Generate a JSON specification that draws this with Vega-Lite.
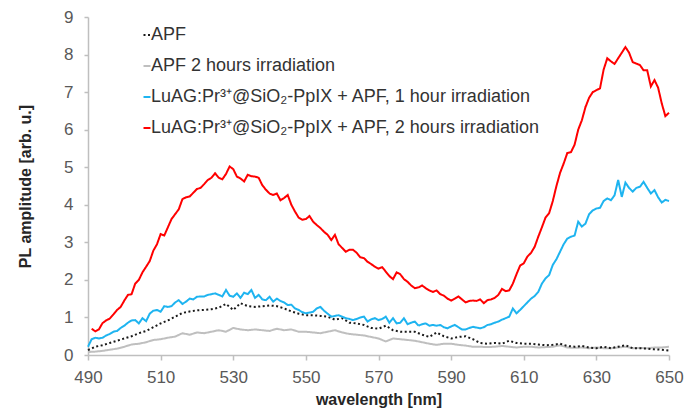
{
  "$schema": "https://vega.github.io/schema/vega-lite/v6.json",
  "width": 581,
  "height": 338,
  "autosize": {"type": "none"},
  "padding": {"left": 88, "top": 17, "right": 20, "bottom": 55},
  "background": "white",
  "config": {"view": {"stroke": null}, "font": "Liberation Sans"},
  "data": {"values": [
{"s":"g","w":490,"v":0.08},{"s":"g","w":492,"v":0.09},{"s":"g","w":494,"v":0.11},{"s":"g","w":496,"v":0.14},{"s":"g","w":498,"v":0.17},{"s":"g","w":500,"v":0.22},{"s":"g","w":502,"v":0.28},{"s":"g","w":504,"v":0.30},{"s":"g","w":506,"v":0.34},{"s":"g","w":508,"v":0.40},{"s":"g","w":510,"v":0.42},{"s":"g","w":512,"v":0.46},{"s":"g","w":514,"v":0.49},{"s":"g","w":516,"v":0.58},{"s":"g","w":518,"v":0.54},{"s":"g","w":520,"v":0.60},{"s":"g","w":522,"v":0.58},{"s":"g","w":524,"v":0.62},{"s":"g","w":526,"v":0.66},{"s":"g","w":528,"v":0.62},{"s":"g","w":530,"v":0.72},{"s":"g","w":532,"v":0.68},{"s":"g","w":534,"v":0.66},{"s":"g","w":536,"v":0.68},{"s":"g","w":538,"v":0.66},{"s":"g","w":540,"v":0.64},{"s":"g","w":542,"v":0.70},{"s":"g","w":544,"v":0.66},{"s":"g","w":546,"v":0.68},{"s":"g","w":548,"v":0.62},{"s":"g","w":550,"v":0.62},{"s":"g","w":552,"v":0.60},{"s":"g","w":554,"v":0.58},{"s":"g","w":556,"v":0.62},{"s":"g","w":558,"v":0.66},{"s":"g","w":560,"v":0.60},{"s":"g","w":562,"v":0.56},{"s":"g","w":564,"v":0.54},{"s":"g","w":566,"v":0.52},{"s":"g","w":568,"v":0.48},{"s":"g","w":570,"v":0.44},{"s":"g","w":572,"v":0.36},{"s":"g","w":574,"v":0.44},{"s":"g","w":576,"v":0.42},{"s":"g","w":578,"v":0.40},{"s":"g","w":580,"v":0.38},{"s":"g","w":582,"v":0.34},{"s":"g","w":584,"v":0.30},{"s":"g","w":586,"v":0.27},{"s":"g","w":588,"v":0.30},{"s":"g","w":590,"v":0.30},{"s":"g","w":592,"v":0.27},{"s":"g","w":594,"v":0.25},{"s":"g","w":596,"v":0.22},{"s":"g","w":598,"v":0.22},{"s":"g","w":600,"v":0.21},{"s":"g","w":602,"v":0.22},{"s":"g","w":604,"v":0.24},{"s":"g","w":606,"v":0.22},{"s":"g","w":608,"v":0.20},{"s":"g","w":610,"v":0.22},{"s":"g","w":612,"v":0.22},{"s":"g","w":614,"v":0.20},{"s":"g","w":616,"v":0.21},{"s":"g","w":618,"v":0.22},{"s":"g","w":620,"v":0.26},{"s":"g","w":622,"v":0.20},{"s":"g","w":624,"v":0.19},{"s":"g","w":626,"v":0.20},{"s":"g","w":628,"v":0.18},{"s":"g","w":630,"v":0.20},{"s":"g","w":632,"v":0.18},{"s":"g","w":634,"v":0.18},{"s":"g","w":636,"v":0.20},{"s":"g","w":638,"v":0.22},{"s":"g","w":640,"v":0.18},{"s":"g","w":642,"v":0.19},{"s":"g","w":644,"v":0.18},{"s":"g","w":646,"v":0.20},{"s":"g","w":648,"v":0.20},{"s":"g","w":650,"v":0.22},
{"s":"k","w":490,"v":0.13},{"s":"k","w":492,"v":0.22},{"s":"k","w":494,"v":0.26},{"s":"k","w":496,"v":0.32},{"s":"k","w":498,"v":0.38},{"s":"k","w":500,"v":0.44},{"s":"k","w":502,"v":0.50},{"s":"k","w":504,"v":0.58},{"s":"k","w":506,"v":0.64},{"s":"k","w":508,"v":0.74},{"s":"k","w":510,"v":0.84},{"s":"k","w":512,"v":0.92},{"s":"k","w":514,"v":1.02},{"s":"k","w":516,"v":1.12},{"s":"k","w":518,"v":1.16},{"s":"k","w":520,"v":1.19},{"s":"k","w":522,"v":1.20},{"s":"k","w":524,"v":1.22},{"s":"k","w":526,"v":1.26},{"s":"k","w":528,"v":1.36},{"s":"k","w":530,"v":1.20},{"s":"k","w":532,"v":1.38},{"s":"k","w":534,"v":1.30},{"s":"k","w":536,"v":1.28},{"s":"k","w":538,"v":1.30},{"s":"k","w":540,"v":1.32},{"s":"k","w":542,"v":1.30},{"s":"k","w":544,"v":1.24},{"s":"k","w":546,"v":1.16},{"s":"k","w":548,"v":1.10},{"s":"k","w":550,"v":1.06},{"s":"k","w":552,"v":1.06},{"s":"k","w":554,"v":1.04},{"s":"k","w":556,"v":1.02},{"s":"k","w":558,"v":0.94},{"s":"k","w":560,"v":0.98},{"s":"k","w":562,"v":0.86},{"s":"k","w":564,"v":0.84},{"s":"k","w":566,"v":0.80},{"s":"k","w":568,"v":0.72},{"s":"k","w":570,"v":0.70},{"s":"k","w":572,"v":0.78},{"s":"k","w":574,"v":0.66},{"s":"k","w":576,"v":0.62},{"s":"k","w":578,"v":0.62},{"s":"k","w":580,"v":0.62},{"s":"k","w":582,"v":0.54},{"s":"k","w":584,"v":0.48},{"s":"k","w":586,"v":0.60},{"s":"k","w":588,"v":0.50},{"s":"k","w":590,"v":0.44},{"s":"k","w":592,"v":0.48},{"s":"k","w":594,"v":0.50},{"s":"k","w":596,"v":0.42},{"s":"k","w":598,"v":0.32},{"s":"k","w":600,"v":0.30},{"s":"k","w":602,"v":0.32},{"s":"k","w":604,"v":0.30},{"s":"k","w":606,"v":0.38},{"s":"k","w":608,"v":0.32},{"s":"k","w":610,"v":0.30},{"s":"k","w":612,"v":0.30},{"s":"k","w":614,"v":0.28},{"s":"k","w":616,"v":0.26},{"s":"k","w":618,"v":0.27},{"s":"k","w":620,"v":0.30},{"s":"k","w":622,"v":0.24},{"s":"k","w":624,"v":0.22},{"s":"k","w":626,"v":0.24},{"s":"k","w":628,"v":0.20},{"s":"k","w":630,"v":0.18},{"s":"k","w":632,"v":0.22},{"s":"k","w":634,"v":0.18},{"s":"k","w":636,"v":0.22},{"s":"k","w":638,"v":0.26},{"s":"k","w":640,"v":0.18},{"s":"k","w":642,"v":0.18},{"s":"k","w":644,"v":0.17},{"s":"k","w":646,"v":0.15},{"s":"k","w":648,"v":0.14},{"s":"k","w":650,"v":0.12},
{"s":"b","w":490,"v":0.22},{"s":"b","w":491,"v":0.42},{"s":"b","w":492,"v":0.46},{"s":"b","w":493,"v":0.44},{"s":"b","w":494,"v":0.46},{"s":"b","w":495,"v":0.52},{"s":"b","w":496,"v":0.56},{"s":"b","w":497,"v":0.62},{"s":"b","w":498,"v":0.64},{"s":"b","w":499,"v":0.72},{"s":"b","w":500,"v":0.78},{"s":"b","w":501,"v":0.86},{"s":"b","w":502,"v":0.92},{"s":"b","w":503,"v":0.93},{"s":"b","w":504,"v":0.84},{"s":"b","w":505,"v":0.98},{"s":"b","w":506,"v":0.90},{"s":"b","w":507,"v":1.10},{"s":"b","w":508,"v":1.18},{"s":"b","w":509,"v":1.20},{"s":"b","w":510,"v":1.15},{"s":"b","w":511,"v":1.30},{"s":"b","w":512,"v":1.28},{"s":"b","w":513,"v":1.30},{"s":"b","w":514,"v":1.40},{"s":"b","w":515,"v":1.46},{"s":"b","w":516,"v":1.36},{"s":"b","w":517,"v":1.42},{"s":"b","w":518,"v":1.50},{"s":"b","w":519,"v":1.48},{"s":"b","w":520,"v":1.55},{"s":"b","w":521,"v":1.56},{"s":"b","w":522,"v":1.56},{"s":"b","w":523,"v":1.60},{"s":"b","w":524,"v":1.62},{"s":"b","w":525,"v":1.64},{"s":"b","w":526,"v":1.60},{"s":"b","w":527,"v":1.56},{"s":"b","w":528,"v":1.73},{"s":"b","w":529,"v":1.58},{"s":"b","w":530,"v":1.55},{"s":"b","w":531,"v":1.64},{"s":"b","w":532,"v":1.52},{"s":"b","w":533,"v":1.66},{"s":"b","w":534,"v":1.62},{"s":"b","w":535,"v":1.73},{"s":"b","w":536,"v":1.52},{"s":"b","w":537,"v":1.60},{"s":"b","w":538,"v":1.48},{"s":"b","w":539,"v":1.46},{"s":"b","w":540,"v":1.55},{"s":"b","w":541,"v":1.42},{"s":"b","w":542,"v":1.50},{"s":"b","w":543,"v":1.44},{"s":"b","w":544,"v":1.40},{"s":"b","w":545,"v":1.33},{"s":"b","w":546,"v":1.34},{"s":"b","w":547,"v":1.24},{"s":"b","w":548,"v":1.20},{"s":"b","w":549,"v":1.14},{"s":"b","w":550,"v":1.11},{"s":"b","w":551,"v":1.13},{"s":"b","w":552,"v":1.15},{"s":"b","w":553,"v":1.24},{"s":"b","w":554,"v":1.28},{"s":"b","w":555,"v":1.18},{"s":"b","w":556,"v":1.10},{"s":"b","w":557,"v":1.02},{"s":"b","w":558,"v":1.04},{"s":"b","w":559,"v":1.06},{"s":"b","w":560,"v":1.02},{"s":"b","w":561,"v":0.98},{"s":"b","w":562,"v":0.96},{"s":"b","w":563,"v":0.93},{"s":"b","w":564,"v":0.96},{"s":"b","w":565,"v":1.00},{"s":"b","w":566,"v":1.02},{"s":"b","w":567,"v":0.89},{"s":"b","w":568,"v":0.95},{"s":"b","w":569,"v":0.98},{"s":"b","w":570,"v":0.93},{"s":"b","w":571,"v":0.96},{"s":"b","w":572,"v":1.02},{"s":"b","w":573,"v":0.86},{"s":"b","w":574,"v":0.98},{"s":"b","w":575,"v":0.84},{"s":"b","w":576,"v":0.86},{"s":"b","w":577,"v":0.98},{"s":"b","w":578,"v":0.82},{"s":"b","w":579,"v":0.86},{"s":"b","w":580,"v":0.89},{"s":"b","w":581,"v":0.78},{"s":"b","w":582,"v":0.82},{"s":"b","w":583,"v":0.84},{"s":"b","w":584,"v":0.78},{"s":"b","w":585,"v":0.80},{"s":"b","w":586,"v":0.78},{"s":"b","w":587,"v":0.80},{"s":"b","w":588,"v":0.74},{"s":"b","w":589,"v":0.71},{"s":"b","w":590,"v":0.76},{"s":"b","w":591,"v":0.80},{"s":"b","w":592,"v":0.74},{"s":"b","w":593,"v":0.68},{"s":"b","w":594,"v":0.68},{"s":"b","w":595,"v":0.72},{"s":"b","w":596,"v":0.75},{"s":"b","w":597,"v":0.73},{"s":"b","w":598,"v":0.71},{"s":"b","w":599,"v":0.74},{"s":"b","w":600,"v":0.80},{"s":"b","w":601,"v":0.82},{"s":"b","w":602,"v":0.86},{"s":"b","w":603,"v":0.89},{"s":"b","w":604,"v":0.94},{"s":"b","w":605,"v":0.98},{"s":"b","w":606,"v":1.02},{"s":"b","w":607,"v":1.24},{"s":"b","w":608,"v":1.11},{"s":"b","w":609,"v":1.20},{"s":"b","w":610,"v":1.30},{"s":"b","w":611,"v":1.40},{"s":"b","w":612,"v":1.50},{"s":"b","w":613,"v":1.57},{"s":"b","w":614,"v":1.68},{"s":"b","w":615,"v":1.90},{"s":"b","w":616,"v":2.04},{"s":"b","w":617,"v":2.13},{"s":"b","w":618,"v":2.40},{"s":"b","w":619,"v":2.55},{"s":"b","w":620,"v":2.75},{"s":"b","w":621,"v":2.95},{"s":"b","w":622,"v":3.10},{"s":"b","w":623,"v":3.15},{"s":"b","w":624,"v":3.18},{"s":"b","w":625,"v":3.55},{"s":"b","w":626,"v":3.42},{"s":"b","w":627,"v":3.50},{"s":"b","w":628,"v":3.75},{"s":"b","w":629,"v":3.85},{"s":"b","w":630,"v":3.90},{"s":"b","w":631,"v":3.92},{"s":"b","w":632,"v":4.10},{"s":"b","w":633,"v":4.17},{"s":"b","w":634,"v":4.12},{"s":"b","w":635,"v":4.25},{"s":"b","w":636,"v":4.66},{"s":"b","w":637,"v":4.21},{"s":"b","w":638,"v":4.59},{"s":"b","w":639,"v":4.45},{"s":"b","w":640,"v":4.35},{"s":"b","w":641,"v":4.45},{"s":"b","w":642,"v":4.48},{"s":"b","w":643,"v":4.61},{"s":"b","w":644,"v":4.45},{"s":"b","w":645,"v":4.30},{"s":"b","w":646,"v":4.39},{"s":"b","w":647,"v":4.20},{"s":"b","w":648,"v":4.06},{"s":"b","w":649,"v":4.13},{"s":"b","w":650,"v":4.10},
{"s":"r","w":491,"v":0.70},{"s":"r","w":492,"v":0.63},{"s":"r","w":493,"v":0.68},{"s":"r","w":494,"v":0.85},{"s":"r","w":495,"v":0.92},{"s":"r","w":496,"v":0.97},{"s":"r","w":497,"v":1.08},{"s":"r","w":498,"v":1.20},{"s":"r","w":499,"v":1.28},{"s":"r","w":500,"v":1.45},{"s":"r","w":501,"v":1.60},{"s":"r","w":502,"v":1.62},{"s":"r","w":503,"v":1.90},{"s":"r","w":504,"v":2.00},{"s":"r","w":505,"v":2.20},{"s":"r","w":506,"v":2.35},{"s":"r","w":507,"v":2.50},{"s":"r","w":508,"v":2.78},{"s":"r","w":509,"v":2.95},{"s":"r","w":510,"v":3.22},{"s":"r","w":511,"v":3.18},{"s":"r","w":512,"v":3.40},{"s":"r","w":513,"v":3.62},{"s":"r","w":514,"v":3.75},{"s":"r","w":515,"v":3.88},{"s":"r","w":516,"v":4.15},{"s":"r","w":517,"v":4.20},{"s":"r","w":518,"v":4.22},{"s":"r","w":519,"v":4.32},{"s":"r","w":520,"v":4.42},{"s":"r","w":521,"v":4.45},{"s":"r","w":522,"v":4.55},{"s":"r","w":523,"v":4.66},{"s":"r","w":524,"v":4.72},{"s":"r","w":525,"v":4.84},{"s":"r","w":526,"v":4.72},{"s":"r","w":527,"v":4.68},{"s":"r","w":528,"v":4.82},{"s":"r","w":529,"v":5.02},{"s":"r","w":530,"v":4.95},{"s":"r","w":531,"v":4.75},{"s":"r","w":532,"v":4.70},{"s":"r","w":533,"v":4.62},{"s":"r","w":534,"v":4.80},{"s":"r","w":535,"v":4.76},{"s":"r","w":536,"v":4.75},{"s":"r","w":537,"v":4.72},{"s":"r","w":538,"v":4.52},{"s":"r","w":539,"v":4.40},{"s":"r","w":540,"v":4.30},{"s":"r","w":541,"v":4.26},{"s":"r","w":542,"v":4.30},{"s":"r","w":543,"v":4.12},{"s":"r","w":544,"v":4.18},{"s":"r","w":545,"v":4.26},{"s":"r","w":546,"v":4.00},{"s":"r","w":547,"v":3.82},{"s":"r","w":548,"v":3.66},{"s":"r","w":549,"v":3.60},{"s":"r","w":550,"v":3.62},{"s":"r","w":551,"v":3.70},{"s":"r","w":552,"v":3.55},{"s":"r","w":553,"v":3.46},{"s":"r","w":554,"v":3.38},{"s":"r","w":555,"v":3.28},{"s":"r","w":556,"v":3.20},{"s":"r","w":557,"v":3.06},{"s":"r","w":558,"v":3.20},{"s":"r","w":559,"v":2.95},{"s":"r","w":560,"v":2.85},{"s":"r","w":561,"v":2.75},{"s":"r","w":562,"v":2.80},{"s":"r","w":563,"v":2.80},{"s":"r","w":564,"v":2.72},{"s":"r","w":565,"v":2.60},{"s":"r","w":566,"v":2.58},{"s":"r","w":567,"v":2.48},{"s":"r","w":568,"v":2.42},{"s":"r","w":569,"v":2.35},{"s":"r","w":570,"v":2.30},{"s":"r","w":571,"v":2.34},{"s":"r","w":572,"v":2.22},{"s":"r","w":573,"v":2.10},{"s":"r","w":574,"v":2.02},{"s":"r","w":575,"v":2.20},{"s":"r","w":576,"v":2.15},{"s":"r","w":577,"v":2.02},{"s":"r","w":578,"v":1.95},{"s":"r","w":579,"v":1.85},{"s":"r","w":580,"v":1.78},{"s":"r","w":581,"v":1.80},{"s":"r","w":582,"v":1.85},{"s":"r","w":583,"v":1.78},{"s":"r","w":584,"v":1.72},{"s":"r","w":585,"v":1.68},{"s":"r","w":586,"v":1.72},{"s":"r","w":587,"v":1.62},{"s":"r","w":588,"v":1.58},{"s":"r","w":589,"v":1.50},{"s":"r","w":590,"v":1.45},{"s":"r","w":591,"v":1.50},{"s":"r","w":592,"v":1.56},{"s":"r","w":593,"v":1.48},{"s":"r","w":594,"v":1.40},{"s":"r","w":595,"v":1.44},{"s":"r","w":596,"v":1.45},{"s":"r","w":597,"v":1.44},{"s":"r","w":598,"v":1.48},{"s":"r","w":599,"v":1.38},{"s":"r","w":600,"v":1.46},{"s":"r","w":601,"v":1.48},{"s":"r","w":602,"v":1.52},{"s":"r","w":603,"v":1.60},{"s":"r","w":604,"v":1.76},{"s":"r","w":605,"v":1.70},{"s":"r","w":606,"v":1.72},{"s":"r","w":607,"v":1.90},{"s":"r","w":608,"v":2.15},{"s":"r","w":609,"v":2.38},{"s":"r","w":610,"v":2.44},{"s":"r","w":611,"v":2.62},{"s":"r","w":612,"v":2.72},{"s":"r","w":613,"v":2.88},{"s":"r","w":614,"v":3.15},{"s":"r","w":615,"v":3.40},{"s":"r","w":616,"v":3.66},{"s":"r","w":617,"v":3.78},{"s":"r","w":618,"v":4.10},{"s":"r","w":619,"v":4.50},{"s":"r","w":620,"v":4.85},{"s":"r","w":621,"v":5.10},{"s":"r","w":622,"v":5.38},{"s":"r","w":623,"v":5.40},{"s":"r","w":624,"v":5.60},{"s":"r","w":625,"v":6.00},{"s":"r","w":626,"v":6.25},{"s":"r","w":627,"v":6.60},{"s":"r","w":628,"v":6.85},{"s":"r","w":629,"v":7.00},{"s":"r","w":630,"v":7.05},{"s":"r","w":631,"v":7.10},{"s":"r","w":632,"v":7.60},{"s":"r","w":633,"v":7.90},{"s":"r","w":634,"v":7.82},{"s":"r","w":635,"v":7.75},{"s":"r","w":636,"v":7.90},{"s":"r","w":637,"v":8.05},{"s":"r","w":638,"v":8.20},{"s":"r","w":639,"v":8.05},{"s":"r","w":640,"v":7.80},{"s":"r","w":641,"v":7.76},{"s":"r","w":642,"v":7.72},{"s":"r","w":643,"v":7.58},{"s":"r","w":644,"v":7.58},{"s":"r","w":645,"v":7.15},{"s":"r","w":646,"v":7.32},{"s":"r","w":647,"v":7.12},{"s":"r","w":648,"v":6.70},{"s":"r","w":649,"v":6.36},{"s":"r","w":650,"v":6.45}
  ]},
  "mark": {"type": "line", "strokeWidth": 2},
  "encoding": {
    "x": {
      "field": "w", "type": "quantitative",
      "scale": {"domain": [490, 650], "nice": false, "zero": false},
      "axis": {
        "title": "wavelength [nm]", "values": [490,510,530,550,570,590,610,630,650],
        "grid": false, "domainColor": "#bfbfbf", "domainWidth": 1.5,
        "tickColor": "#bfbfbf", "tickWidth": 1.5, "tickSize": 5,
        "labelFont": "Liberation Sans", "labelFontSize": 17, "labelColor": "#595959", "labelPadding": 9,
        "labelFlush": false,
        "titleFont": "Liberation Sans", "titleFontSize": 16, "titleFontWeight": "bold", "titleColor": "#262626", "titlePadding": 6
      }
    },
    "y": {
      "field": "v", "type": "quantitative",
      "scale": {"domain": [0, 9], "nice": false},
      "axis": {
        "title": "PL amplitude [arb. u.]", "values": [0,1,2,3,4,5,6,7,8,9],
        "grid": false, "domainColor": "#bfbfbf", "domainWidth": 1.5,
        "tickColor": "#bfbfbf", "tickWidth": 1.5, "tickSize": 4,
        "labelFont": "Liberation Sans", "labelFontSize": 17, "labelColor": "#595959", "labelPadding": 11,
        "labelFlush": false,
        "titleFont": "Liberation Sans", "titleFontSize": 16, "titleFontWeight": "bold", "titleColor": "#262626", "titlePadding": 30
      }
    },
    "color": {
      "field": "s", "type": "nominal",
      "scale": {"domain": ["k","g","b","r"], "range": ["#1a1a1a","#bfbfbf","#1eb4f0","#ff0000"]},
      "legend": {
        "title": null, "orient": "none", "legendX": 50, "legendY": 9,
        "symbolType": "stroke", "symbolSize": 49, "symbolStrokeWidth": 2,
        "labelFont": "Liberation Sans", "labelFontSize": 18, "labelColor": "#333333", "labelOffset": -5,
        "rowPadding": 13, "labelLimit": 600,
        "labelExpr": "datum.label == 'k' ? 'APF' : datum.label == 'g' ? 'APF 2 hours irradiation' : datum.label == 'b' ? 'LuAG:Pr³⁺@SiO₂-PpIX + APF, 1 hour irradiation' : 'LuAG:Pr³⁺@SiO₂-PpIX + APF, 2 hours irradiation'"
      }
    },
    "strokeDash": {
      "field": "s", "type": "nominal",
      "scale": {"domain": ["k","g","b","r"], "range": [[2,2.5],[1,0],[1,0],[1,0]]},
      "legend": {
        "title": null, "orient": "none", "legendX": 50, "legendY": 9,
        "symbolType": "stroke", "symbolSize": 49, "symbolStrokeWidth": 2,
        "labelFont": "Liberation Sans", "labelFontSize": 18, "labelColor": "#333333", "labelOffset": -5,
        "rowPadding": 13, "labelLimit": 600,
        "labelExpr": "datum.label == 'k' ? 'APF' : datum.label == 'g' ? 'APF 2 hours irradiation' : datum.label == 'b' ? 'LuAG:Pr³⁺@SiO₂-PpIX + APF, 1 hour irradiation' : 'LuAG:Pr³⁺@SiO₂-PpIX + APF, 2 hours irradiation'"
      }
    }
  }
}
